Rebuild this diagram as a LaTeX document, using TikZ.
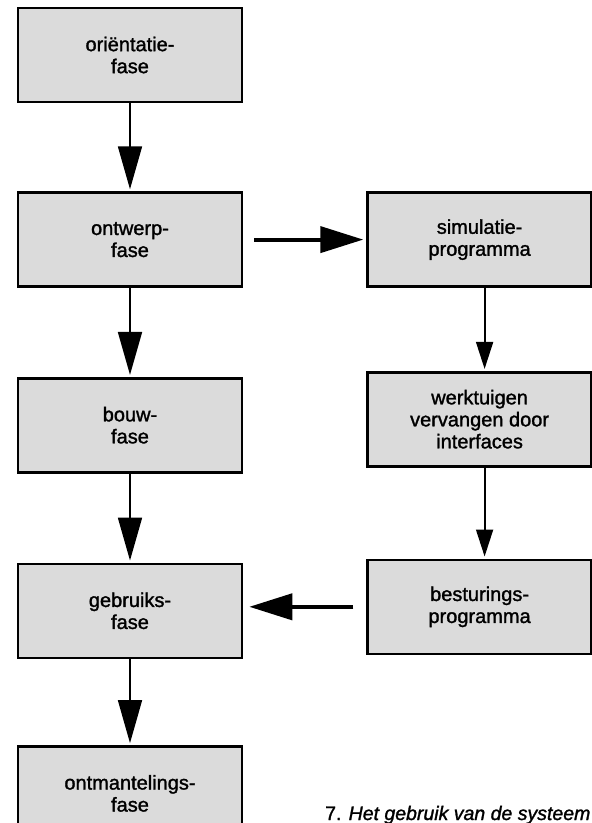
\documentclass[tikz,border=0pt]{standalone}
\usepackage{fontspec}
\setmainfont{Liberation Sans}
\newfontfamily\fasefont{Liberation Sans}[FakeBold=1.4]
\usetikzlibrary{arrows.meta,positioning}

\begin{document}
\begin{tikzpicture}[x=1pt,y=1pt,font=\fasefont\fontsize{20}{22}\selectfont,
  fase/.style={draw,line width=2.6pt,fill=black!14,minimum width=224pt,minimum height=94pt,align=center,inner sep=3pt},
  vpijl/.style={-{Triangle[length=43pt,width=24pt]},line width=1.8pt,shorten >=2pt},
  kpijl/.style={-{Triangle[length=27pt,width=17pt]},line width=1.8pt,shorten >=2pt},
  hpijl/.style={-{Triangle[length=43pt,width=26pt]},line width=4pt}]
  \useasboundingbox (0,0) rectangle (592,-823);
  % linker kolom: de fasen
  \node[fase] (orient) at (130,-55) {oriëntatie-\\fase};
  \node[fase,below=88pt of orient] (ontwerp) {ontwerp-\\fase};
  \node[fase,below=89pt of ontwerp] (bouw) {bouw-\\fase};
  \node[fase,below=89pt of bouw] (gebruik) {gebruiks-\\fase};
  \node[fase,below=86pt of gebruik] (ontmantel) {ontmantelings-\\fase};
  % rechter kolom
  \node[fase,right=123pt of ontwerp] (simul) {simulatie-\\programma};
  \node[fase,below=83pt of simul] (werktuig) {werktuigen\\vervangen door\\interfaces};
  \node[fase,below=91pt of werktuig] (besturing) {besturings-\\programma};
  \draw[vpijl] (orient) -- (ontwerp);
  \draw[vpijl] (ontwerp) -- (bouw);
  \draw[vpijl] (bouw) -- (gebruik);
  \draw[vpijl] (gebruik) -- (ontmantel);
  \draw[kpijl] ([xshift=5pt]simul.south) -- ([xshift=5pt]werktuig.north);
  \draw[kpijl] ([xshift=5pt]werktuig.south) -- ([xshift=5pt]besturing.north);
  \draw[hpijl,shorten <=11pt,shorten >=3pt] (ontwerp.east) -- (simul.west);
  \draw[hpijl,shorten <=13pt,shorten >=6pt] (besturing.west) -- (besturing.west -| gebruik.east);
  \node[anchor=base west,inner sep=0pt,font=\fasefont\fontsize{19.5}{22}\selectfont] (bijschrift) at (325,-820) {7. \textit{Het gebruik van de systeem}};
\end{tikzpicture}
\end{document}
